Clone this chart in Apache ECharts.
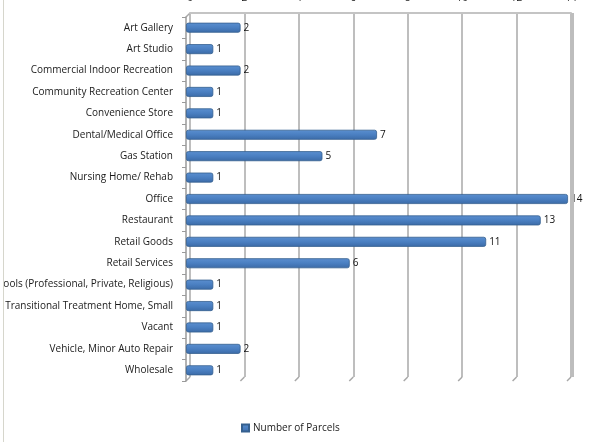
<!DOCTYPE html>
<html>
<head>
<meta charset="utf-8">
<script src="https://cdn.jsdelivr.net/npm/echarts@6/dist/echarts.min.js"></script>
<style>
  html, body { margin: 0; padding: 0; background: #fff; }
  #chart { width: 591px; height: 442px; }
</style>
</head>
<body>
<div id="chart"></div>
<script>
// Land-use categories and parcel counts
const categories = [
  'Art Gallery',
  'Art Studio',
  'Commercial Indoor Recreation',
  'Community Recreation Center',
  'Convenience Store',
  'Dental/Medical Office',
  'Gas Station',
  'Nursing Home/ Rehab',
  'Office',
  'Restaurant',
  'Retail Goods',
  'Retail Services',
  'Schools (Professional, Private, Religious)',
  'Transitional Treatment Home, Small',
  'Vacant',
  'Vehicle, Minor Auto Repair',
  'Wholesale'
];
const parcels = [2, 1, 2, 1, 1, 7, 5, 1, 14, 13, 11, 6, 1, 1, 1, 2, 1];
const seriesName = 'Number of Parcels';
const axisMin = 0;
const axisMax = 14;
const axisStep = 2;

const font = 'Open Sans, Liberation Sans, sans-serif';
const chart = echarts.init(document.getElementById('chart'), null, { renderer: 'canvas' });

const option = {
  animation: false,
  backgroundColor: '#ffffff',
  textStyle: { fontFamily: font },
  grid: [
    // back wall: gridlines and value labels
    { left: 190, right: 20, top: 13, bottom: 65, containLabel: false, outerBoundsMode: 'none' },
    // front plane: bars and categories
    { left: 186, right: 23, top: 17, bottom: 61, containLabel: false, outerBoundsMode: 'none' }
  ],
  xAxis: [
    {
      gridIndex: 0, type: 'value', position: 'top',
      min: axisMin, max: axisMax, interval: axisStep,
      axisLine: { show: true, lineStyle: { color: '#c4c4c4', width: 2 } },
      axisTick: { show: false },
      splitLine: { show: true, lineStyle: { color: '#a8a8a8', width: 1.5 } },
      axisLabel: { margin: 10, fontSize: 10, color: '#222', fontFamily: font }
    },
    {
      gridIndex: 1, type: 'value',
      min: axisMin, max: axisMax, interval: axisStep,
      show: false
    }
  ],
  yAxis: [
    {
      gridIndex: 0, type: 'category', data: categories, inverse: true, show: false
    },
    {
      gridIndex: 1, type: 'category', data: categories, inverse: true,
      axisLine: { show: true, lineStyle: { color: '#9a9a9a', width: 1.5 } },
      axisTick: { show: true, length: 4, lineStyle: { color: '#9a9a9a' } },
      axisLabel: { margin: 13, fontSize: 10, color: '#1a1a1a', fontFamily: font },
      splitLine: { show: false }
    }
  ],
  legend: {
    data: [seriesName],
    left: 236, top: 418,
    icon: 'rect', itemWidth: 7, itemHeight: 7, itemGap: 4,
    textStyle: { fontSize: 10, color: '#1a1a1a', fontFamily: font, padding: [0, 0, 0, -1] }
  },
  series: [
    {
      name: seriesName, type: 'bar', xAxisIndex: 1, yAxisIndex: 1,
      data: parcels,
      barWidth: 10,
      itemStyle: {
        color: {
          type: 'linear', x: 0, y: 0, x2: 0, y2: 1,
          colorStops: [
            { offset: 0, color: '#5b8fd0' },
            { offset: 0.5, color: '#4a7fc1' },
            { offset: 1, color: '#3b6aa6' }
          ]
        },
        borderColor: '#35608f', borderWidth: 0.8, borderRadius: 2
      },
      label: {
        show: true, position: 'right', distance: 3,
        fontSize: 10, color: '#111', fontFamily: font
      }
    }
  ]
};
chart.setOption(option);

// 3-D floor edges, wall edge and page frame, placed from the axis scales
function decorate() {
  const g = [];
  const floorY = 442 - 65;
  for (let v = axisMin; v <= axisMax; v += axisStep) {
    const x = chart.convertToPixel({ xAxisIndex: 0 }, v);
    g.push({
      type: 'line', silent: true,
      shape: { x1: x, y1: floorY, x2: x - 4, y2: floorY + 4 },
      style: { stroke: '#a8a8a8', lineWidth: 1.5 }
    });
  }
  const x0 = chart.convertToPixel({ xAxisIndex: 0 }, axisMin);
  const xMax = chart.convertToPixel({ xAxisIndex: 0 }, axisMax);
  g.push({
    type: 'line', silent: true,
    shape: { x1: x0 - 4, y1: 17, x2: x0, y2: 13 },
    style: { stroke: '#a8a8a8', lineWidth: 1.5 }
  });
  g.push({
    type: 'rect', silent: true, z: 10,
    shape: { x: xMax, y: 13, width: 3, height: floorY - 13 },
    style: { fill: '#bdbdbd' }
  });
  // page frame at the left edge
  g.push({
    type: 'rect', silent: true, z: 100,
    shape: { x: 0, y: 0, width: 3, height: 442 },
    style: { fill: '#ffffff' }
  });
  g.push({
    type: 'line', silent: true, z: 100,
    shape: { x1: 3.5, y1: 0, x2: 3.5, y2: 442 },
    style: { stroke: '#d6d6cc', lineWidth: 1 }
  });
  chart.setOption({ graphic: { elements: g } });
}
decorate();
</script>
</body>
</html>
